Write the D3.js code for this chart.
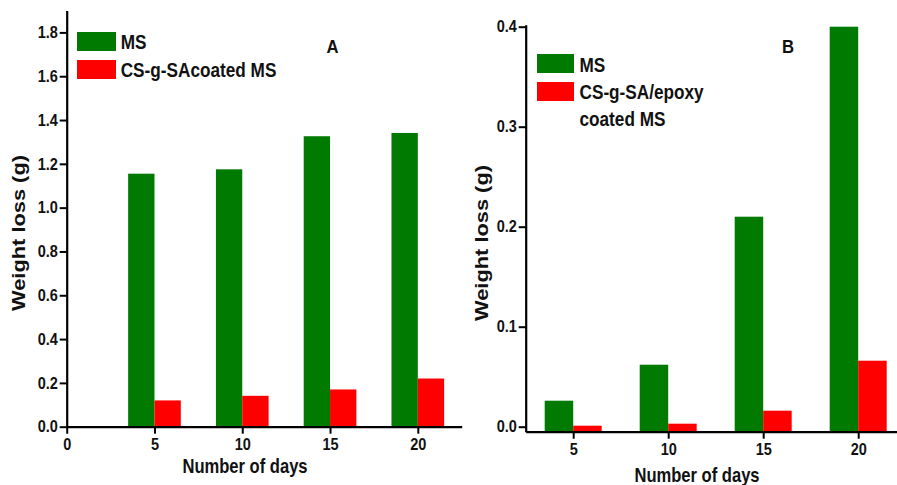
<!DOCTYPE html>
<html>
<head>
<meta charset="utf-8">
<script src="https://cdn.jsdelivr.net/npm/d3@7"></script>
<style>
  html, body { margin: 0; padding: 0; background: #fff; }
  svg { display: block; }
  text { font-family: "Liberation Sans", Arial, sans-serif; font-weight: bold; fill: #111; }
</style>
</head>
<body>
<script>
// ---- data ----
const days = [5, 10, 15, 20];
const msA = [1.155, 1.175, 1.326, 1.341];
const coatedA = [0.12, 0.141, 0.17, 0.22];
const msB = [0.026, 0.062, 0.21, 0.40];
const coatedB = [0.001, 0.003, 0.016, 0.066];
const yTicksA = [0, 0.2, 0.4, 0.6, 0.8, 1.0, 1.2, 1.4, 1.6, 1.8];
const xTicksA = [0, 5, 10, 15, 20];
const yTicksB = [0, 0.1, 0.2, 0.3, 0.4];
const xTicksB = [5, 10, 15, 20];
const seriesNames = ["MS", "CS-g-SAcoated MS"];
const seriesNamesB = ["MS", "CS-g-SA/epoxy", "coated MS"];
const xTitle = "Number of days";
const yTitle = "Weight loss (g)";

const GREEN = "#007a00", RED = "#ff0000";
const W = 897, H = 485;
const svg = d3.select("body").append("svg").attr("width", W).attr("height", H);

function txt(x, y, str, fs, sx, anchor) {
  return svg.append("g").attr("transform", `translate(${x},${y}) scale(${sx},1)`)
    .append("text").attr("text-anchor", anchor || "start")
    .style("font-size", fs + "px").text(str);
}

function panel(cfg) {
  const g = svg.append("g");
  const x = d3.scaleLinear().domain(cfg.xDom).range(cfg.xRange);
  const y = d3.scaleLinear().domain(cfg.yDom).range(cfg.yRange);
  const y0 = cfg.yRange[0];
  const half = 1.5;
  g.selectAll(".g").data(days).join("rect")
    .attr("x", d => x(d - half)).attr("width", d => x(d) - x(d - half))
    .attr("y", (d, i) => y(cfg.ms[i])).attr("height", (d, i) => y0 - y(cfg.ms[i]))
    .attr("fill", GREEN);
  g.selectAll(".r").data(days).join("rect")
    .attr("x", d => x(d)).attr("width", d => x(d + half) - x(d))
    .attr("y", (d, i) => y(cfg.coated[i])).attr("height", (d, i) => y0 - y(cfg.coated[i]))
    .attr("fill", RED);
  const xa = g.append("g").attr("transform", `translate(0,${y0})`)
    .call(d3.axisBottom(x).tickValues(cfg.xTicks).tickSize(7).tickPadding(5).tickFormat(d3.format("d")).tickSizeOuter(0));
  const ya = g.append("g").attr("transform", `translate(${cfg.xRange[0]},0)`)
    .call(d3.axisLeft(y).tickValues(cfg.yTicks).tickSize(7).tickPadding(3).tickFormat(d3.format(".1f")).tickSizeOuter(0));
  [xa, ya].forEach(a => {
    a.attr("font-family", null).attr("font-size", null);
    a.select(".domain").attr("stroke", "#000").attr("stroke-width", 2.2);
    a.selectAll(".tick line").attr("stroke", "#000").attr("stroke-width", 2);
    a.selectAll(".tick text").style("font-size", "16.5px").attr("fill", "#111");
  });
  xa.selectAll(".tick text").attr("dy", "0.71em").attr("transform", "scale(0.88,1)");
  ya.selectAll(".tick text").attr("transform", "scale(0.88,1)");
  return { g, x, y };
}

panel({
  xDom: [0, 22.5], xRange: [66.7, 461.7],
  yDom: [0, 1.9], yRange: [426.7, 10.5],
  ms: msA, coated: coatedA, xTicks: xTicksA, yTicks: yTicksA
});
panel({
  xDom: [2.5, 22.5], xRange: [525.7, 905.7],
  yDom: [-0.005, 0.402], yRange: [431.7, 24.7],
  ms: msB, coated: coatedB, xTicks: xTicksB, yTicks: yTicksB
});

// legend A
[GREEN, RED].forEach((c, i) => {
  svg.append("rect").attr("x", 77).attr("y", [32, 60][i]).attr("width", 39).attr("height", 19).attr("fill", c);
});
seriesNames.forEach((n, i) => txt(120.7, [49, 77][i], n, 20, 0.86));
// legend B
[GREEN, RED].forEach((c, i) => {
  svg.append("rect").attr("x", 537).attr("y", [54, 82][i]).attr("width", 37).attr("height", 19).attr("fill", c);
});
seriesNamesB.forEach((n, i) => txt(579.5, [71.7, 99, 126][i], n, 20, 0.86));

// panel letters
txt(332.5, 53, "A", 19, 0.88, "middle");
txt(788, 53, "B", 19, 0.88, "middle");

// axis titles
txt(245, 473, xTitle, 19.5, 0.85, "middle");
txt(697, 482, xTitle, 19.5, 0.85, "middle");
svg.append("text").attr("transform", "translate(25,233) rotate(-90)")
  .attr("text-anchor", "middle").style("font-size", "18px")
  .attr("textLength", 156).attr("lengthAdjust", "spacingAndGlyphs").text(yTitle);
svg.append("text").attr("transform", "translate(488,243) rotate(-90)")
  .attr("text-anchor", "middle").style("font-size", "18px")
  .attr("textLength", 156).attr("lengthAdjust", "spacingAndGlyphs").text(yTitle);
</script>
</body>
</html>
